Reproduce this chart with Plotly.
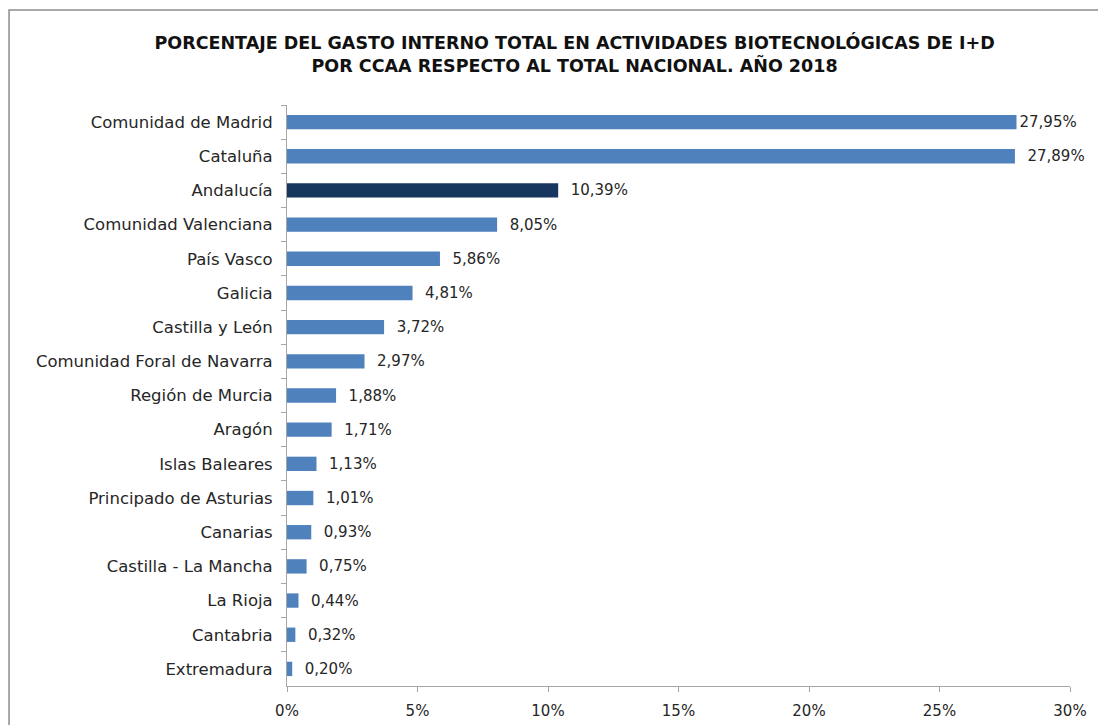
import plotly.graph_objects as go

regiones = [
    "Comunidad de Madrid", "Cataluña", "Andalucía", "Comunidad Valenciana",
    "País Vasco", "Galicia", "Castilla y León", "Comunidad Foral de Navarra",
    "Región de Murcia", "Aragón", "Islas Baleares", "Principado de Asturias",
    "Canarias", "Castilla - La Mancha", "La Rioja", "Cantabria", "Extremadura",
]
porcentajes = [27.95, 27.89, 10.39, 8.05, 5.86, 4.81, 3.72, 2.97,
               1.88, 1.71, 1.13, 1.01, 0.93, 0.75, 0.44, 0.32, 0.20]
destacada = "Andalucía"
ticks_x = [0, 5, 10, 15, 20, 25, 30]

colores = ["#17375E" if r == destacada else "#4F81BD" for r in regiones]
# Excel deja un pequeño hueco antes de la etiqueta, salvo en la barra más larga
etiquetas = [("" if i == 0 else "  ") + f"{v:.2f}".replace(".", ",") + "%"
             for i, v in enumerate(porcentajes)]

fig = go.Figure()
fig.add_trace(go.Bar(
    x=porcentajes, y=regiones, orientation="h",
    marker=dict(color=colores, line=dict(width=0)),
    width=0.42,
    text=etiquetas, textposition="outside", cliponaxis=False,
    constraintext="none",
    textfont=dict(size=15, color="#262626"),
    showlegend=False,
))

fig.update_layout(
    width=1098, height=717,
    margin=dict(l=279, r=36, t=97, b=39, autoexpand=False),
    paper_bgcolor="white", plot_bgcolor="white",
    font=dict(family="DejaVu Sans, sans-serif", color="#262626"),
    title=dict(
        text="<b>PORCENTAJE DEL GASTO INTERNO TOTAL EN ACTIVIDADES BIOTECNOLÓGICAS DE I+D<br>"
             "POR CCAA RESPECTO AL TOTAL NACIONAL. AÑO 2018</b>",
        x=0.516, xanchor="center", y=0.943, yanchor="top",
        font=dict(size=17.5, color="#111111"),
    ),
)

fig.update_xaxes(
    range=[0, 30], tickvals=ticks_x,
    ticktext=[f"{t}%" for t in ticks_x],
    showgrid=False, zeroline=False, automargin=False,
    showline=True, linecolor="#A6A6A6", linewidth=1,
    ticks="outside", ticklen=5, tickcolor="#A6A6A6",
    ticklabelstandoff=6,
    tickfont=dict(size=15),
)
fig.update_yaxes(
    categoryorder="array", categoryarray=regiones, autorange="reversed",
    showgrid=False, automargin=False,
    showline=True, linecolor="#A6A6A6", linewidth=1,
    ticks="outside", ticklen=5, tickcolor="#A6A6A6", tickson="boundaries",
    ticklabelstandoff=10,
    tickfont=dict(size=16.5),
)

# marco exterior del gráfico
fig.add_shape(type="rect", xref="paper", yref="paper",
              x0=-0.355, x1=1.2, y0=-0.2, y1=1.1635,
              line=dict(color="#8C8C8C", width=1.5), layer="below")

fig.write_html("out.html")
